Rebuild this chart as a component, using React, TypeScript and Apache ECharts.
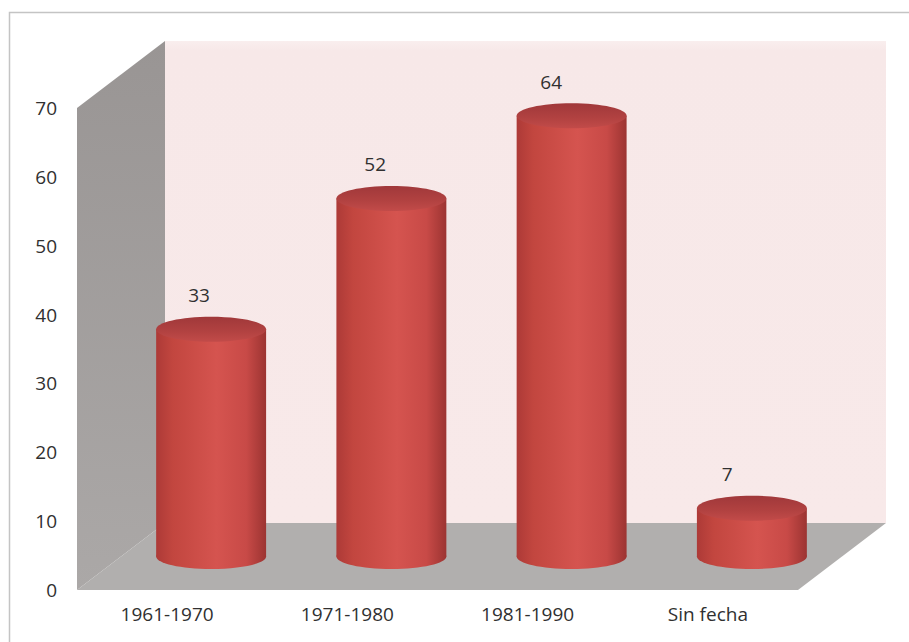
import React, { useEffect, useRef } from "react";
import * as echarts from "echarts";

const categories = ["1961-1970", "1971-1980", "1981-1990", "Sin fecha"];
const values = [33, 52, 64, 7];
const yTicks = { min: 0, max: 70, interval: 10 };

const DX = 88;
const DY = -67;
const FONT = "'Open Sans', 'Liberation Sans', sans-serif";
const TEXT = "#303030";
const FS = 19;

export default function App() {
  const ref = useRef<HTMLDivElement>(null);
  useEffect(() => {
    if (!ref.current) return;
    const chart = echarts.init(ref.current, undefined, { renderer: "svg" });
    const bodyFill = new echarts.graphic.LinearGradient(0, 0, 1, 0, [
      { offset: 0, color: "#ad3a37" },
      { offset: 0.15, color: "#c2463f" },
      { offset: 0.55, color: "#d5544f" },
      { offset: 0.82, color: "#c84a47" },
      { offset: 1, color: "#9c3432" },
    ]);
    const topFill = new echarts.graphic.LinearGradient(0, 0, 0, 1, [
      { offset: 0, color: "#a0383a" },
      { offset: 0.6, color: "#b24241" },
      { offset: 1, color: "#c24b49" },
    ]);
    const option: any = {
      animation: false,
      backgroundColor: "#ffffff",
      graphic: [
        {
          type: "rect",
          shape: { x: 9.5, y: 12.5, width: 1200, height: 1200 },
          style: { fill: "none", stroke: "#c4c4c4", lineWidth: 1.5 },
          z: 0,
        },
      ],
      grid: { left: 77, right: 111, top: 108, bottom: 52 },
      xAxis: {
        type: "category",
        data: categories,
        axisLine: { show: false },
        axisTick: { show: false },
        splitLine: { show: false },
        axisLabel: { margin: 14, color: TEXT, fontSize: FS, fontFamily: FONT },
      },
      yAxis: {
        type: "value",
        min: yTicks.min,
        max: yTicks.max,
        interval: yTicks.interval,
        axisLine: { show: false },
        axisTick: { show: false },
        splitLine: { show: false },
        axisLabel: { margin: 20, color: TEXT, fontSize: FS, fontFamily: FONT },
      },
      series: [
        {
          type: "custom",
          silent: true,
          data: [[0, 0]],
          renderItem: (params: any) => {
            const cs = params.coordSys;
            const x0 = cs.x;
            const x1 = cs.x + cs.width;
            const y0 = cs.y;
            const y1 = cs.y + cs.height;
            return {
              type: "group",
              children: [
                {
                  type: "rect",
                  shape: { x: x0 + DX, y: y0 + DY, width: x1 - x0, height: y1 - y0 },
                  style: {
                    fill: new echarts.graphic.LinearGradient(0, 0, 0, 1, [
                      { offset: 0, color: "#f9eeee" },
                      { offset: 0.02, color: "#f7e8e8" },
                      { offset: 1, color: "#f8e9e9" },
                    ]),
                  },
                },
                {
                  type: "polygon",
                  shape: {
                    points: [
                      [x0, y0],
                      [x0 + DX, y0 + DY],
                      [x0 + DX, y1 + DY],
                      [x0, y1],
                    ],
                  },
                  style: {
                    fill: new echarts.graphic.LinearGradient(0, 0, 0, 1, [
                      { offset: 0, color: "#999594" },
                      { offset: 1, color: "#aba8a7" },
                    ]),
                  },
                },
                {
                  type: "polygon",
                  shape: {
                    points: [
                      [x0, y1],
                      [x0 + DX, y1 + DY],
                      [x1 + DX, y1 + DY],
                      [x1, y1],
                    ],
                  },
                  style: { fill: "#b1afae" },
                },
              ],
            };
          },
        },
        {
          type: "custom",
          data: values.map((v, i) => [i, v]),
          renderItem: (params: any, api: any) => {
            const i = api.value(0);
            const v = api.value(1);
            const p0 = api.coord([i, 0]);
            const p1 = api.coord([i, v]);
            const band = api.size([1, 0])[0];
            const rx = band * 0.305;
            const ry = 12.5;
            const cx = p0[0] + DX / 2;
            const by = p0[1] + DY / 2;
            const ty = p1[1] + DY / 2;
            return {
              type: "group",
              children: [
                { type: "ellipse", shape: { cx, cy: by, rx, ry }, style: { fill: bodyFill } },
                {
                  type: "rect",
                  shape: { x: cx - rx, y: ty, width: rx * 2, height: by - ty },
                  style: { fill: bodyFill },
                },
                { type: "ellipse", shape: { cx, cy: ty, rx, ry }, style: { fill: topFill } },
                {
                  type: "text",
                  style: {
                    text: String(v),
                    x: cx - 12 - 4.2 * i,
                    y: ty - 34,
                    align: "center",
                    verticalAlign: "middle",
                    fill: TEXT,
                    fontSize: FS,
                    fontFamily: FONT,
                  },
                },
              ],
            };
          },
        },
      ],
    };
    chart.setOption(option);
    return () => chart.dispose();
  }, []);
  return (
    <div
      ref={ref}
      style={{ position: "fixed", left: 0, top: 0, width: 909, height: 642 }}
    />
  );
}
